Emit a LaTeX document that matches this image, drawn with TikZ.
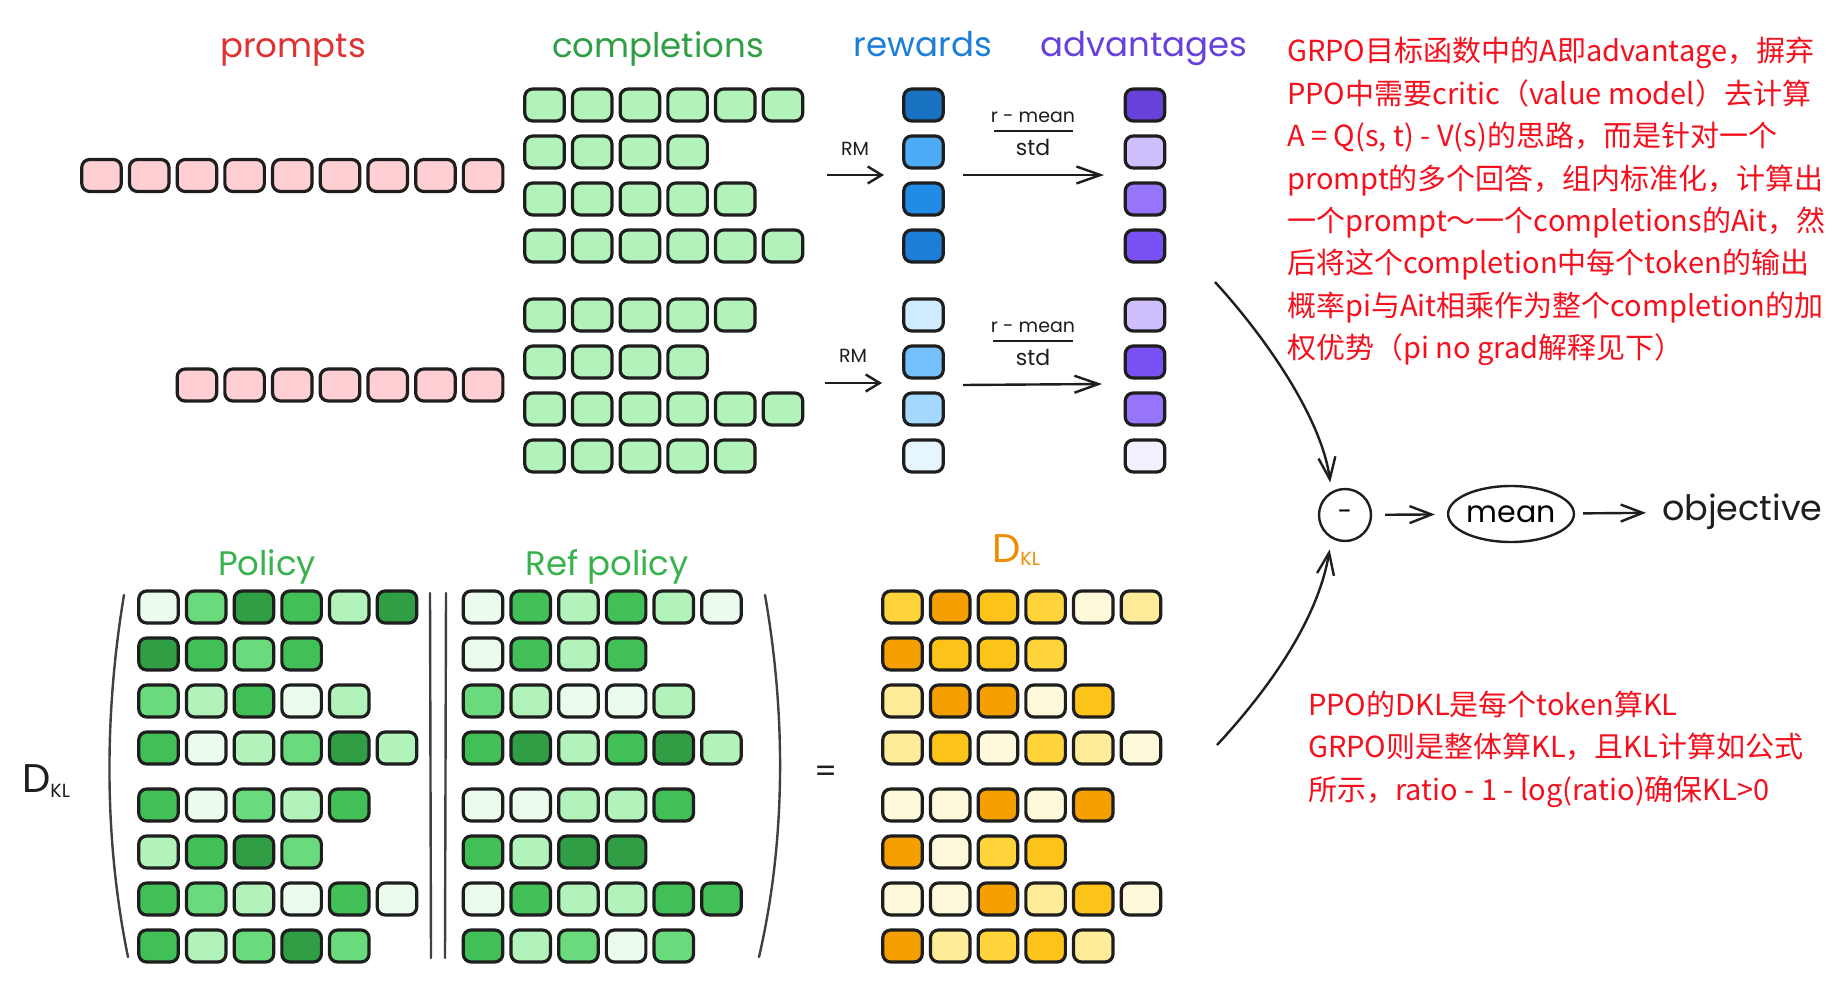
\documentclass[tikz,border=0pt]{standalone}
\usepackage{fontspec}
\usetikzlibrary{arrows.meta,shapes.geometric}
\newfontfamily\hand{Poppins}
\newfontfamily\cjk{Noto Sans CJK SC}
\definecolor{ink}{HTML}{1E1E1E}
\definecolor{pk}{HTML}{FFCFD3}
\definecolor{cg}{HTML}{B2F2BB}
\definecolor{b0}{HTML}{E7F5FF}\definecolor{b1}{HTML}{D0EBFF}\definecolor{b2}{HTML}{A5D8FF}
\definecolor{b3}{HTML}{74C0FC}\definecolor{b4}{HTML}{4DABF7}\definecolor{b6}{HTML}{228BE6}
\definecolor{b7}{HTML}{1C7ED6}\definecolor{b8}{HTML}{1971C2}
\definecolor{v0}{HTML}{F3F0FF}\definecolor{v2}{HTML}{D0BFFF}\definecolor{v4}{HTML}{9775FA}
\definecolor{v6}{HTML}{7950F2}\definecolor{v8}{HTML}{6741D9}
\definecolor{g0}{HTML}{EBFBEE}\definecolor{g2}{HTML}{B2F2BB}\definecolor{g4}{HTML}{69DB7C}
\definecolor{g6}{HTML}{40C057}\definecolor{g8}{HTML}{2F9E44}
\definecolor{y0}{HTML}{FFF9DB}\definecolor{y2}{HTML}{FFEC99}\definecolor{y4}{HTML}{FFD43B}
\definecolor{y6}{HTML}{FCC419}\definecolor{y7}{HTML}{F59F00}
\definecolor{notec}{HTML}{F5101E}
\definecolor{tred}{HTML}{E03131}\definecolor{tgreen}{HTML}{2F9E44}
\definecolor{tblue}{HTML}{1C7ED6}\definecolor{tviolet}{HTML}{6741D9}
\definecolor{tpol}{HTML}{37B24D}\definecolor{torange}{HTML}{F08C00}
\tikzset{
  tok/.style={draw=ink, line width=3.2pt, rounded corners=8pt, minimum width=39.5pt,
    minimum height=32pt, inner sep=0pt, fill=#1},
  title/.style={anchor=base, inner sep=0pt, font=\hand\fontsize{34}{34}\selectfont},
  lbl/.style={anchor=base, inner sep=0pt, text=ink, font=\hand\fontsize{#1}{#1}\selectfont},
  arr/.style={draw=ink, line width=2.4pt, -{Straight Barb[length=#1,width=17pt,line width=2.4pt]}},
  arr/.default=14pt,
  note/.style={anchor=base west, inner sep=0pt, text=notec, font=\cjk\fontsize{29}{29}\selectfont},
  paren/.style={draw=ink!85, line width=2.4pt, line cap=round},
}
\begin{document}
\begin{tikzpicture}[x=1pt,y=-1pt]
\useasboundingbox[fill=white] (0,0) rectangle (1848,990);

% titles
\node[title, text=tred] (tprompts) at (293,58) {prompts};
\node[title, text=tgreen] (tcompl) at (658,58) {completions};
\node[title, text=tblue] (trew) at (923,57) {rewards};
\node[title, text=tviolet] (tadv) at (1144,57) {advantages};

% prompts
\foreach \i in {0,...,8} \node[tok=pk] (pa-\i) at ({101.5+47.7*\i},175.5) {};
\foreach \i in {0,...,6} \node[tok=pk] (pb-\i) at ({196.9+47.7*\i},385) {};

% completions
\foreach \r/\n/\y in {1/6/105, 2/4/152, 3/5/199, 4/6/246, 5/5/315, 6/4/362, 7/6/409, 8/5/456} {
  \foreach \i in {1,...,\n} \node[tok=cg] (c-\r-\i) at ({544.5+47.7*(\i-1)},\y) {};
}

% rewards & advantages
\foreach \r/\col/\y in {1/b8/105, 2/b4/152, 3/b6/199, 4/b7/246, 5/b1/315, 6/b3/362, 7/b2/409, 8/b0/456}
  \node[tok=\col] (rw-\r) at (923.5,\y) {};
\foreach \r/\col/\y in {1/v8/105, 2/v2/152, 3/v4/199, 4/v6/246, 5/v2/315, 6/v6/362, 7/v4/409, 8/v0/456}
  \node[tok=\col] (ad-\r) at (1145,\y) {};

% RM arrows
\coordinate (rm1s) at (827,175); \coordinate (rm1e) at (884,175);
\coordinate (rm2s) at (825,383); \coordinate (rm2e) at (882,383);
\draw[arr] (rm1s) -- (rm1e);
\draw[arr] (rm2s) -- (rm2e);
\node[lbl=19] (rml1) at (855,155) {RM};
\node[lbl=19] (rml2) at (853,362) {RM};

% normalisation arrows
\coordinate (n1s) at (963,175); \coordinate (n1e) at (1104,175);
\coordinate (n2s) at (963,385); \coordinate (n2e) at (1102,384);
\draw[arr=24pt] (n1s) -- (n1e);
\draw[arr=24pt] (n2s) -- (n2e);
\node[lbl=19] (fn1) at (1033,122) {r - mean};
\node[lbl=22] (fd1) at (1033,155) {std};
\draw[draw=ink, line width=2.4pt] (994,131) -- (1073,131);
\node[lbl=19] (fn2) at (1033,332) {r - mean};
\node[lbl=22] (fd2) at (1033,365) {std};
\draw[draw=ink, line width=2.4pt] (993,341) -- (1073,341);

% bottom titles
\node[title, text=tpol] (tpol) at (267,575) {Policy};
\node[title, text=tpol] (tref) at (607,575) {Ref policy};
\node[anchor=base west, inner sep=0pt, text=torange] (tdkl) at (992,562)
  {{\hand\fontsize{40}{40}\selectfont D}{\hand\fontsize{19}{19}\selectfont\raisebox{-3pt}{KL}}};
\node[anchor=base west, inner sep=0pt, text=ink] (ldkl) at (22,792)
  {{\hand\fontsize{40}{40}\selectfont D}{\hand\fontsize{19}{19}\selectfont\raisebox{-5pt}{KL}}};
\node[lbl=32] (eq) at (826,782) {=};

% policy matrix
\foreach \r/\y/\cols in {1/607/{g0,g4,g8,g6,g2,g8}, 2/654/{g8,g6,g4,g6}, 3/701/{g4,g2,g6,g0,g2},
  4/748/{g6,g0,g2,g4,g8,g2}, 5/805/{g6,g0,g4,g2,g6}, 6/852/{g2,g6,g8,g4},
  7/899/{g6,g4,g2,g0,g6,g0}, 8/946/{g6,g2,g4,g8,g4}} {
  \foreach \c [count=\i] in \cols \node[tok=\c] (po-\r-\i) at ({158.5+47.7*(\i-1)},\y) {};
}
% ref policy matrix
\foreach \r/\y/\cols in {1/607/{g0,g6,g2,g6,g2,g0}, 2/654/{g0,g6,g2,g6}, 3/701/{g4,g2,g0,g0,g2},
  4/748/{g6,g8,g2,g6,g8,g2}, 5/805/{g0,g0,g2,g2,g6}, 6/852/{g6,g2,g8,g8},
  7/899/{g0,g6,g2,g2,g6,g6}, 8/946/{g6,g2,g4,g0,g4}} {
  \foreach \c [count=\i] in \cols \node[tok=\c] (rf-\r-\i) at ({483+47.7*(\i-1)},\y) {};
}
% DKL matrix
\foreach \r/\y/\cols in {1/607/{y4,y7,y6,y4,y0,y2}, 2/654/{y7,y6,y6,y4}, 3/701/{y2,y7,y7,y0,y6},
  4/748/{y2,y6,y0,y4,y2,y0}, 5/805/{y0,y0,y7,y0,y7}, 6/852/{y7,y0,y4,y6},
  7/899/{y0,y0,y7,y2,y6,y0}, 8/946/{y7,y2,y4,y6,y2}} {
  \foreach \c [count=\i] in \cols \node[tok=\c] (kl-\r-\i) at ({902.5+47.7*(\i-1)},\y) {};
}

% parentheses and bars
\draw[paren] (124,595) .. controls (104,715) and (104,840) .. (128,957);
\draw[paren] (765,595) .. controls (786,715) and (786,840) .. (759,957);
\draw[paren] (430,593) -- (431,958);
\draw[paren] (446,593) -- (445,958);

% objective part
\node[circle, draw=ink, line width=2.4pt, minimum size=52pt, inner sep=0pt, font=\hand\fontsize{26}{26}\selectfont] (minus) at (1345,515) {-};
\node[ellipse, draw=ink, line width=2.4pt, minimum width=110pt, minimum height=56pt, inner sep=0pt, font=\hand\fontsize{30}{30}\selectfont] (mean) at (1511,514) {mean};
\node[inner sep=0pt, anchor=west, text=ink, font=\hand\fontsize{35}{35}\selectfont] (obj) at (1662,512) {objective};
\draw[arr=22pt, shorten <=13pt, shorten >=12pt] (minus) -- (mean);
\draw[arr=22pt, shorten <=8pt, shorten >=16pt] (mean) -- (obj);
\coordinate (ct) at (1215,282);
\coordinate (cb) at (1217,745);
\draw[arr=22pt, shorten >=9pt] (ct) .. controls (1268,340) and (1322,420) .. (minus.120);
\draw[arr=22pt, shorten >=11pt] (cb) .. controls (1268,690) and (1318,620) .. (minus.240);

% notes
\node[note] (n1) at (1287,62) {GRPO目标函数中的A即advantage，摒弃};
\node[note] (n2) at (1287,104) {PPO中需要critic（value model）去计算};
\node[note] (n3) at (1287,146) {A = Q(s, t) - V(s)的思路，而是针对一个};
\node[note] (n4) at (1287,189) {prompt的多个回答，组内标准化，计算出};
\node[note] (n5) at (1287,231) {一个prompt～一个completions的Ait，然};
\node[note] (n6) at (1287,273) {后将这个completion中每个token的输出};
\node[note] (n7) at (1287,316) {概率pi与Ait相乘作为整个completion的加};
\node[note] (n8) at (1287,358) {权优势（pi no grad解释见下）};

\node[note] (m1) at (1308,715) {PPO的DKL是每个token算KL};
\node[note] (m2) at (1308,757) {GRPO则是整体算KL，且KL计算如公式};
\node[note] (m3) at (1308,800) {所示，ratio - 1 - log(ratio)确保KL>0};
\end{tikzpicture}
\end{document}
